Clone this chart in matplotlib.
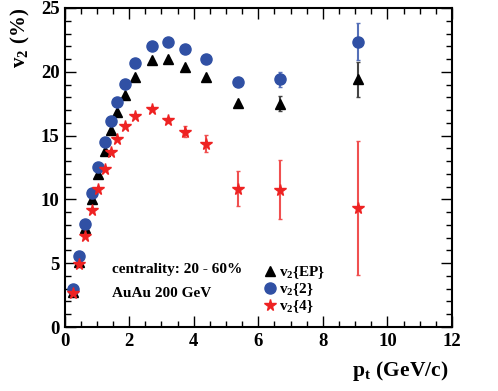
import matplotlib
matplotlib.use("Agg")
import matplotlib.pyplot as plt
from matplotlib.ticker import MultipleLocator
import numpy as np

plt.rcParams['mathtext.fontset'] = 'custom'
plt.rcParams['mathtext.bf'] = 'Liberation Serif:bold'
plt.rcParams['mathtext.rm'] = 'Liberation Serif:bold'
plt.rcParams['mathtext.it'] = 'Liberation Serif:bold'
plt.rcParams['font.family'] = ['Liberation Serif', 'DejaVu Serif']

# data
pt_low = [0.25, 0.45, 0.65, 0.85, 1.04, 1.24, 1.44, 1.64, 1.87, 2.19, 2.70, 3.21, 3.72, 4.37, 5.38]
pt_high = [6.66, 9.10]

v2_ep = [2.75, 5.1, 7.75, 10.0, 12.0, 13.8, 15.45, 16.86, 18.2, 19.63, 20.9, 21.0, 20.4, 19.6, 17.56, 17.5, 19.4]
v2_ep_err = [0, 0, 0, 0, 0, 0, 0, 0, 0, 0, 0, 0, 0, 0, 0, 0.6, 1.4]

v2_2 = [3.0, 5.57, 8.1, 10.5, 12.55, 14.5, 16.15, 17.6, 19.06, 20.7, 22.04, 22.35, 21.8, 21.0, 19.2, 19.4, 22.35]
v2_2_err = [0, 0, 0, 0, 0, 0, 0, 0, 0, 0, 0, 0, 0, 0, 0, 0.6, 1.45]

v2_4 = [2.7, 4.94, 7.16, 9.18, 10.8, 12.4, 13.7, 14.77, 15.76, 16.57, 17.07, 16.2, 15.3, 14.38, 10.85, 10.75, 9.3]
v2_4_err = [0, 0, 0, 0, 0, 0, 0, 0, 0, 0, 0, 0.2, 0.43, 0.63, 1.37, 2.3, 5.25]

pt = pt_low + pt_high

blue = '#3050a4'
red = '#ee2222'

fig = plt.figure(figsize=(4.98, 3.91), dpi=100)
ax = fig.add_axes([64.5/498, 1-327/391, (452-64.5)/498, (327-8)/391])

h_ep = ax.errorbar(pt, v2_ep, yerr=v2_ep_err, fmt='^', color='black', ms=7.5, ecolor='#444444',
                   elinewidth=1.5, capsize=1.5, zorder=3)
h_2 = ax.errorbar(pt, v2_2, yerr=v2_2_err, fmt='o', color=blue, ms=8, ecolor='#5570b8',
                  elinewidth=1.5, capsize=1.5, zorder=4)
h_4 = ax.errorbar(pt, v2_4, yerr=v2_4_err, fmt='*', color=red, ms=8.5, ecolor='#f05050',
                  elinewidth=1.5, capsize=1.5, zorder=5)

ax.set_xlim(0, 12)
ax.set_ylim(0, 25)
ax.xaxis.set_major_locator(MultipleLocator(2))
ax.xaxis.set_minor_locator(MultipleLocator(0.5))
ax.yaxis.set_major_locator(MultipleLocator(5))
ax.yaxis.set_minor_locator(MultipleLocator(1))
ax.tick_params(which='both', direction='in', top=True, right=True, width=1)
ax.tick_params(which='major', length=8)
ax.tick_params(which='minor', length=4)
for lab in ax.get_xticklabels() + ax.get_yticklabels():
    lab.set_fontweight('bold')
    lab.set_fontsize(13.5)
ax.tick_params(axis='x', pad=4)
for s in ax.spines.values():
    s.set_linewidth(1.5)

leg = ax.legend([h_ep[0], h_2[0], h_4[0]],
                [r'$\mathbf{v_{2}\{EP\}}$', r'$\mathbf{v_{2}\{2\}}$', r'$\mathbf{v_{2}\{4\}}$'],
                loc='upper left', bbox_to_anchor=(0.49, 0.215), frameon=False,
                fontsize=11, handletextpad=0.0, labelspacing=0.0, handlelength=1.2,
                borderaxespad=0)

ax.text(1.47, 4.2, 'centrality: 20 - 60%', fontsize=11, fontweight='bold')
ax.text(1.47, 2.35, 'AuAu 200 GeV', fontsize=11, fontweight='bold')

fig.text(20/498, 1-8/391, r'$\mathbf{v_{2}\ (\%)}$', rotation=90, ha='center', va='top', fontsize=15)
fig.text(448/498, 1-371/391, r'$\mathbf{p_{t}\ (GeV/c)}$', ha='right', va='center', fontsize=15.5)

fig.savefig('out.png', dpi=100)
